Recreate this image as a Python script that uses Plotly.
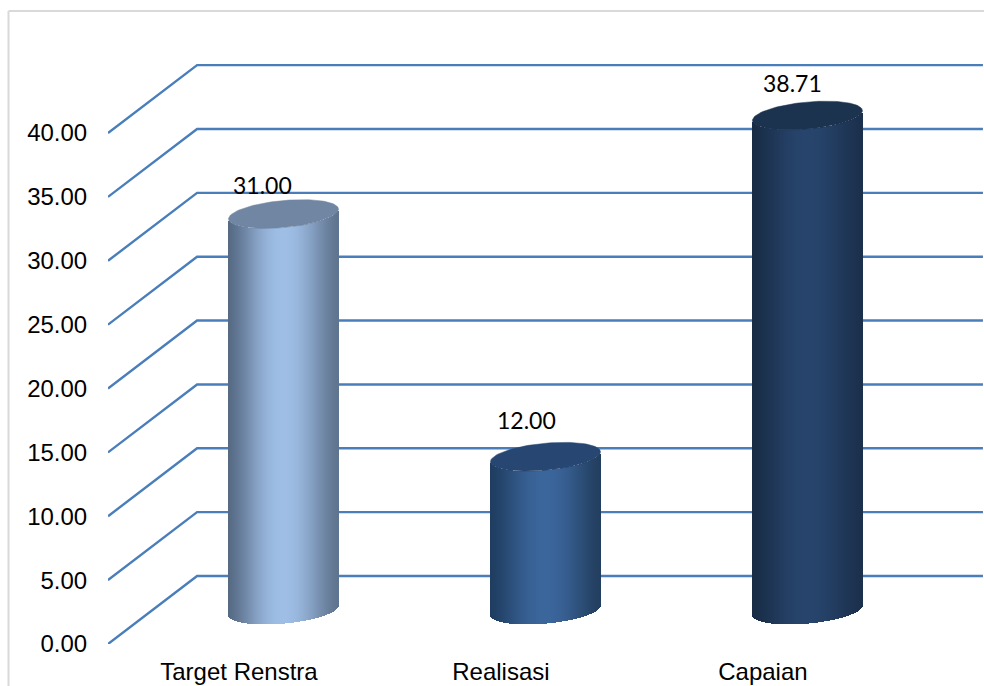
import math
import plotly.graph_objects as go

categories = ["Target Renstra", "Realisasi", "Capaian"]
values = [31.00, 12.00, 38.71]
y_ticks = [0, 5, 10, 15, 20, 25, 30, 35, 40]

# styling / geometry of the pseudo-3D look
DEPTH_X, DEPTH_Y = 0.34, 5.32      # wall offset in axis units
RADIUS_X, RADIUS_Y, TILT = 0.21, 1.06, 0.38
STRIPS = 110
EDGE_L = ["#566a84", "#1f3d60", "#182c45"]
MID = ["#9fbee6", "#3b669c", "#27446c"]
EDGE_R = ["#5f748e", "#233f60", "#1b304c"]
CAP = ["#7086a3", "#274671", "#1c334f"]
LABEL_NUDGE = [(-21, 15), (-19, 23), (-15, 19)]
GRID = "#4a7ebb"
XR = [-0.5, 2.844]
YR = [0, 48.85]


def rgb(h):
    return [int(h[i:i + 2], 16) for i in (1, 3, 5)]


def shade(u, left, mid, right):
    edge = rgb(left) if u < 0 else rgb(right)
    f = math.cos(math.pi / 2 * abs(u)) ** 1.4
    c = [round(e + (m - e) * f) for e, m in zip(edge, rgb(mid))]
    return f"rgb({c[0]},{c[1]},{c[2]})"


fig = go.Figure()

for v in y_ticks:
    fig.add_trace(go.Scatter(
        x=[XR[0], XR[0] + DEPTH_X, 2.5 + DEPTH_X],
        y=[v, v + DEPTH_Y, v + DEPTH_Y],
        mode="lines", line=dict(color=GRID, width=2.4),
        hoverinfo="skip", showlegend=False))

w = 2 * RADIUS_X / STRIPS
for i, (cat, val) in enumerate(zip(categories, values)):
    cx = i + DEPTH_X / 2
    cy = DEPTH_Y / 2
    us = [(k + 0.5) / STRIPS * 2 - 1 for k in range(STRIPS)]
    fig.add_trace(go.Bar(
        x=[cx + u * RADIUS_X for u in us],
        y=[val] * STRIPS,
        base=[cy - RADIUS_Y * math.sqrt(1 - u * u) + TILT * u for u in us],
        width=[w * 1.05] * STRIPS,
        marker=dict(color=[shade(u, EDGE_L[i], MID[i], EDGE_R[i]) for u in us],
                    line=dict(width=0)),
        name=cat, xaxis="x2", yaxis="y2", showlegend=False, hoverinfo="skip"))
    ts = [2 * math.pi * k / 120 for k in range(121)]
    fig.add_trace(go.Scatter(
        x=[cx + RADIUS_X * math.cos(t) for t in ts],
        y=[val + cy + RADIUS_Y * math.sin(t) + TILT * math.cos(t) for t in ts],
        mode="lines", fill="toself", fillcolor=CAP[i],
        line=dict(color=CAP[i], width=0.5),
        xaxis="x2", yaxis="y2", showlegend=False, hoverinfo="skip"))

annotations = []
for i, val in enumerate(values):
    annotations.append(dict(
        x=i + DEPTH_X / 2, y=val + DEPTH_Y / 2 + RADIUS_Y,
        xref="x2", yref="y2", text=f"{val:.2f}", showarrow=False,
        xshift=LABEL_NUDGE[i][0], yshift=LABEL_NUDGE[i][1],
        font=dict(family="Lato", size=23, color="#000000")))

frame = "#d9d9d9"
px = 1 / 876
py = 1 / 624
shapes = [
    dict(type="line", xref="paper", yref="paper",
         x0=(8.5 - 108) * px, x1=1, y0=(644 - 11) * py, y1=(644 - 11) * py,
         line=dict(color=frame, width=2)),
    dict(type="line", xref="paper", yref="paper",
         x0=(8.5 - 108) * px, x1=(8.5 - 108) * px, y0=(644 - 11) * py, y1=(644 - 690) * py,
         line=dict(color=frame, width=2)),
]

fig.update_layout(
    width=984, height=686,
    margin=dict(l=108, r=0, t=20, b=42, autoexpand=False),
    paper_bgcolor="white", plot_bgcolor="white",
    barmode="overlay", bargap=0,
    font=dict(family="Liberation Sans", size=24, color="#000000"),
    annotations=annotations, shapes=shapes,
    xaxis=dict(range=XR, tickmode="array", tickvals=[0, 1, 2], ticktext=categories,
               showgrid=False, zeroline=False, showline=False, automargin=False,
               ticks="outside", ticklen=6, tickcolor="rgba(0,0,0,0)"),
    yaxis=dict(range=YR, tickmode="array", tickvals=y_ticks, tickformat=".2f",
               showgrid=False, zeroline=False, showline=False, automargin=False,
               ticks="outside", ticklen=15, tickcolor="rgba(0,0,0,0)"),
    xaxis2=dict(range=XR, overlaying="x", visible=False),
    yaxis2=dict(range=YR, overlaying="y", visible=False),
)

fig.write_html("out.html", config=dict(displayModeBar=False),
               post_script="document.body.style.margin='0';document.body.style.overflow='hidden';")
